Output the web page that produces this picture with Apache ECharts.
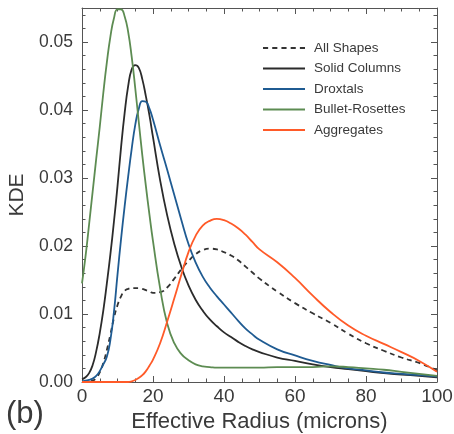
<!DOCTYPE html>
<html>
<head>
<meta charset="utf-8">
<script src="https://cdn.jsdelivr.net/npm/echarts@6/dist/echarts.min.js"></script>
<style>
  html, body { margin: 0; padding: 0; background: #fff; }
  #chart { width: 454px; height: 434px; }
</style>
</head>
<body>
<div id="chart"></div>
<script>
// Effective radius sample points (microns)
const radius = [0,1,2,3,4,5,6,7,8,9,10,11,12,13,14,15,16,17,18,19,20,22,24,26,28,30,32,34,36,38,40,42,44,46,48,50,55,60,65,70,75,80,85,90,95,100];

// Kernel density estimates per habit
const allShapes = [0,0,0.0001,0.0002,0.0006,0.0014,0.0028,0.0047,0.007,0.0094,0.0113,0.0126,0.0134,0.0137,0.0138,0.0138,0.0138,0.0137,0.0135,0.0133,0.0131,0.0132,0.0139,0.0152,0.0166,0.0178,0.0188,0.0194,0.0196,0.0195,0.0191,0.0186,0.0179,0.0170,0.0161,0.0152,0.0133,0.0116,0.0101,0.0087,0.0071,0.0057,0.0046,0.0036,0.0028,0.0017];
const solidColumns = [0.0004,0.0007,0.0013,0.0025,0.0045,0.0072,0.0105,0.0145,0.0188,0.0236,0.0288,0.0345,0.0395,0.0435,0.046,0.0466,0.0462,0.0445,0.042,0.0392,0.036,0.0297,0.0245,0.0203,0.0169,0.0142,0.0121,0.0105,0.0092,0.0082,0.0073,0.0066,0.0059,0.0053,0.0048,0.0044,0.0036,0.0031,0.0026,0.0022,0.0019,0.0016,0.0013,0.0011,0.0009,0.0007];
const droxtals = [0.0001,0.0002,0.0003,0.0005,0.0009,0.0016,0.0026,0.0037,0.0062,0.0103,0.0158,0.021,0.0258,0.0302,0.0343,0.0378,0.0402,0.0413,0.0412,0.0402,0.0386,0.0348,0.0312,0.0275,0.0238,0.0203,0.0176,0.0155,0.0139,0.0126,0.0114,0.0102,0.0090,0.0079,0.0070,0.0062,0.0048,0.0039,0.0031,0.0025,0.0020,0.0017,0.0014,0.0012,0.0010,0.0008];
const bulletRosettes = [0.0145,0.0185,0.0232,0.028,0.0328,0.0375,0.0425,0.047,0.0508,0.0535,0.0548,0.0548,0.0538,0.0515,0.0478,0.0432,0.0382,0.0333,0.0288,0.0246,0.0207,0.0138,0.0086,0.0057,0.0041,0.0032,0.0026,0.0023,0.0022,0.0021,0.0021,0.0021,0.0021,0.0021,0.0021,0.0021,0.0022,0.0022,0.0022,0.0023,0.0022,0.002,0.0018,0.0015,0.0012,0.0009];
const aggregates = [0,0,0,0,0,0,0,0,0,0,0,0,0,0,0.0001,0.0003,0.0006,0.001,0.0016,0.0024,0.0033,0.0057,0.0089,0.0123,0.0158,0.0191,0.0215,0.023,0.0237,0.024,0.0238,0.0233,0.0226,0.0217,0.0206,0.0195,0.0176,0.0153,0.0127,0.0103,0.0083,0.0068,0.0056,0.0044,0.0031,0.0015];

const xTicks = [0, 20, 40, 60, 80, 100];
const yTicks = [0.00, 0.01, 0.02, 0.03, 0.04, 0.05];

const pairs = ys => radius.map((x, i) => [x, ys[i]]);

const axisColor = '#555';
const textColor = '#3a3a3a';
const font = 'Liberation Sans, Arial, sans-serif';

// legend keys: a plain stroke and a five-dash stroke
const solidKey = 'path://M0,0H42V1.8H0Z';
const dashedKey = 'path://M0,0H5V1.8H0Z M9,0H14V1.8H9Z M18,0H23V1.8H18Z M27,0H32V1.8H27Z M36,0H41V1.8H36Z';

const chart = echarts.init(document.getElementById('chart'), null, { renderer: 'canvas' });

const tickCommon = { show: true, inside: true, length: 6, lineStyle: { color: axisColor, width: 1 } };
const minorCommon = { show: true, length: 3.5, splitNumber: 5, lineStyle: { color: axisColor, width: 1 } };

function line(name, data, color, dashed) {
  return {
    name, type: 'line', data: pairs(data), smooth: 0.5, symbol: 'none',
    lineStyle: { color, width: 1.8, type: dashed ? [5, 4] : 'solid' },
    itemStyle: { color }, z: 3
  };
}

chart.setOption({
  animation: false,
  backgroundColor: '#fff',
  grid: { left: 82, right: 17, top: 8, bottom: 52, containLabel: false, outerBoundsMode: 'none' },
  legend: {
    orient: 'vertical', left: 258, top: 36,
    itemWidth: 42, itemHeight: 14, itemGap: 6.5,
    textStyle: { fontFamily: font, fontSize: 13.5, color: textColor, padding: [0, 0, 0, 4] },
    data: [
      { name: 'All Shapes', icon: dashedKey },
      { name: 'Solid Columns', icon: solidKey },
      { name: 'Droxtals', icon: solidKey },
      { name: 'Bullet-Rosettes', icon: solidKey },
      { name: 'Aggregates', icon: solidKey }
    ]
  },
  xAxis: [{
    type: 'value', min: xTicks[0], max: xTicks[xTicks.length - 1], interval: 20,
    name: 'Effective Radius (microns)', nameLocation: 'middle', nameGap: 27,
    nameTextStyle: { fontFamily: font, fontSize: 22, color: textColor },
    axisLine: { show: true, lineStyle: { color: axisColor, width: 1 } },
    axisTick: tickCommon,
    minorTick: Object.assign({}, minorCommon, { splitNumber: 4 }),
    splitLine: { show: false },
    axisLabel: { fontFamily: font, fontSize: 19, color: textColor, margin: 5 }
  }, {
    type: 'value', position: 'top', min: 0, max: 100, interval: 20,
    axisLine: { show: true, onZero: false, lineStyle: { color: axisColor, width: 1 } },
    axisTick: tickCommon,
    minorTick: Object.assign({}, minorCommon, { splitNumber: 4 }),
    splitLine: { show: false }, axisLabel: { show: false }
  }],
  yAxis: [{
    type: 'value', min: yTicks[0], max: 0.055, interval: 0.01,
    name: 'KDE', nameLocation: 'middle', nameGap: 41,
    nameTextStyle: { fontFamily: font, fontSize: 21, color: textColor },
    axisLine: { show: true, lineStyle: { color: axisColor, width: 1 } },
    axisTick: tickCommon, minorTick: minorCommon,
    splitLine: { show: false },
    axisLabel: {
      fontFamily: font, fontSize: 17.5, color: textColor, margin: 9, showMaxLabel: false,
      formatter: v => v.toFixed(2)
    }
  }, {
    type: 'value', position: 'right', min: 0, max: 0.055, interval: 0.01,
    axisLine: { show: true, onZero: false, lineStyle: { color: axisColor, width: 1 } },
    axisTick: tickCommon, minorTick: minorCommon,
    splitLine: { show: false }, axisLabel: { show: false }
  }],
  series: [
    line('All Shapes', allShapes, '#333333', true),
    line('Solid Columns', solidColumns, '#2b2b2b', false),
    line('Droxtals', droxtals, '#1f5b92', false),
    line('Bullet-Rosettes', bulletRosettes, '#5d8c52', false),
    line('Aggregates', aggregates, '#ff5a28', false),
    // empty series that keeps the mirrored top/right axes active
    { type: 'line', xAxisIndex: 1, yAxisIndex: 1, data: [], silent: true, symbol: 'none' }
  ],
  graphic: [{
    type: 'text', left: 6, top: 399,
    style: { text: '(b)', font: '31px ' + font, fill: textColor }
  }]
});
</script>
</body>
</html>
